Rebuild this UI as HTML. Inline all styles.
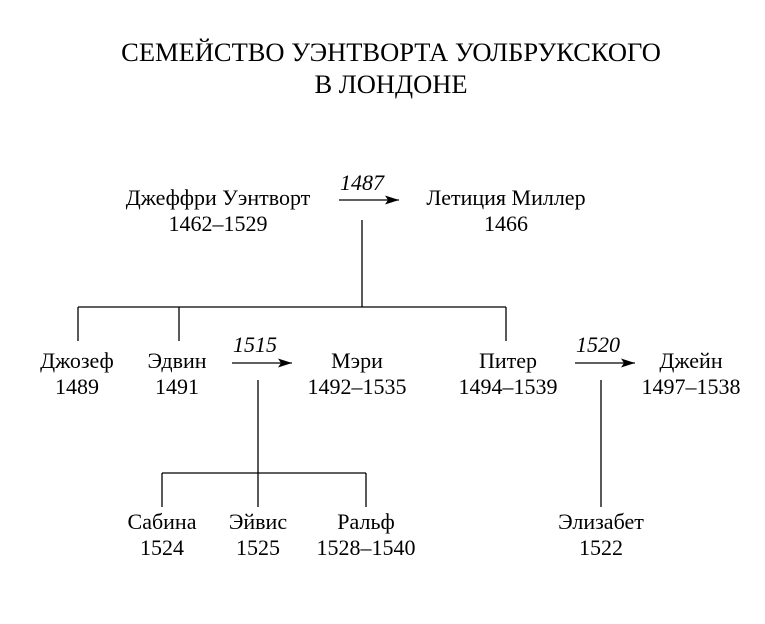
<!DOCTYPE html>
<html><head><meta charset="utf-8"><style>
body{margin:0;background:#fff;}
svg text{font-family:"Liberation Serif",serif;fill:#000;}
</style></head><body>
<svg width="765" height="619" viewBox="0 0 765 619" xmlns="http://www.w3.org/2000/svg">
<defs><marker id="a" markerWidth="14" markerHeight="9" refX="14" refY="4.5" orient="auto" markerUnits="userSpaceOnUse"><path d="M0,0 L14,4.5 L0,9 L3,4.5 z" fill="#000"/></marker></defs>
<g font-size="26.5" text-anchor="middle">
<text x="391" y="61">СЕМЕЙСТВО УЭНТВОРТА УОЛБРУКСКОГО</text>
<text x="391" y="93">В ЛОНДОНЕ</text>
</g>
<g font-size="22" text-anchor="middle">
<text x="218" y="205">Джеффри Уэнтворт</text><text x="218" y="231">1462–1529</text>
<text x="506" y="205">Летиция Миллер</text><text x="506" y="231">1466</text>
<text x="77" y="368">Джозеф</text><text x="77" y="394">1489</text>
<text x="177" y="368">Эдвин</text><text x="177" y="394">1491</text>
<text x="357" y="368">Мэри</text><text x="357" y="394">1492–1535</text>
<text x="508" y="368">Питер</text><text x="508" y="394">1494–1539</text>
<text x="691" y="368">Джейн</text><text x="691" y="394">1497–1538</text>
<text x="162" y="529">Сабина</text><text x="162" y="555">1524</text>
<text x="258" y="529">Эйвис</text><text x="258" y="555">1525</text>
<text x="366" y="529">Ральф</text><text x="366" y="555">1528–1540</text>
<text x="601" y="529">Элизабет</text><text x="601" y="555">1522</text>
</g>
<g font-size="22" font-style="italic" text-anchor="middle">
<text x="362" y="190">1487</text>
<text x="255" y="352">1515</text>
<text x="598" y="352">1520</text>
</g>
<g stroke="#000" stroke-width="1.3" fill="none">
<line x1="339" y1="200" x2="399" y2="200" marker-end="url(#a)"/>
<line x1="232" y1="363" x2="292" y2="363" marker-end="url(#a)"/>
<line x1="575" y1="363" x2="635" y2="363" marker-end="url(#a)"/>
<line x1="362" y1="220" x2="362" y2="307"/>
<line x1="78" y1="307" x2="506" y2="307"/>
<line x1="78" y1="307" x2="78" y2="341"/>
<line x1="179" y1="307" x2="179" y2="341"/>
<line x1="506" y1="307" x2="506" y2="341"/>
<line x1="258" y1="380" x2="258" y2="507"/>
<line x1="162" y1="473" x2="366" y2="473"/>
<line x1="162" y1="473" x2="162" y2="507"/>
<line x1="366" y1="473" x2="366" y2="507"/>
<line x1="601" y1="380" x2="601" y2="507"/>
</g>
</svg>
</body></html>
